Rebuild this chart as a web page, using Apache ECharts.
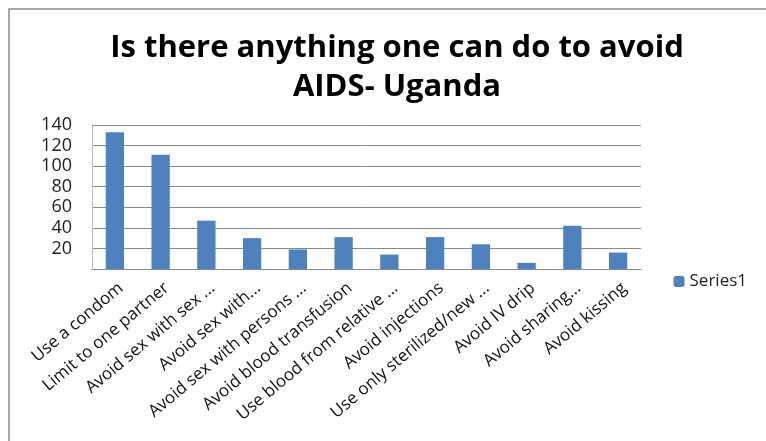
<!DOCTYPE html>
<html><head><meta charset="utf-8">
<script src="https://cdn.jsdelivr.net/npm/echarts@6/dist/echarts.min.js"></script>
<style>html,body{margin:0;padding:0;background:#fff}#c{width:766px;height:441px}</style>
</head><body><div id="c"></div>
<script>
const categories = ["Use a condom","Limit to one partner","Avoid sex with sex ...","Avoid sex with...","Avoid sex with persons ...","Avoid blood transfusion","Use blood from relative ...","Avoid injections","Use only sterilized/new ...","Avoid IV drip","Avoid sharing...","Avoid kissing"];
const series1 = [133,111,47,30,19,31,14,31,24,6,42,16];
const titleLines = ["Is there anything one can do to avoid","AIDS- Uganda"];

const chart = echarts.init(document.getElementById('c'), null, {renderer:'canvas'});
chart.setOption({
  animation:false,
  backgroundColor:'#fff',
  graphic:[{type:'rect',shape:{x:9,y:9,width:800,height:500},style:{fill:'none',stroke:'#8a8a8a',lineWidth:1.5}}],
  title:{text:titleLines.join('\n'),left:392,textAlign:'center',top:24,
    textStyle:{fontFamily:'Open Sans',fontWeight:'bold',fontSize:31,lineHeight:39,color:'#000'}},
  legend:{right:14,top:268,itemWidth:11,itemHeight:11,itemGap:5,
    textStyle:{fontFamily:'Open Sans',fontSize:17,color:'#222'},data:['Series1']},
  grid:{left:92,right:125,top:125,bottom:172,containLabel:false},
  xAxis:{type:'category',data:categories,
    axisLine:{lineStyle:{color:'#888',width:1}},axisTick:{show:false},
    axisLabel:{rotate:40,interval:0,margin:22,padding:[0,-8,0,0],fontFamily:'Open Sans',fontSize:17,color:'#111'}},
  yAxis:{type:'value',min:0,max:140,interval:20,
    axisLine:{show:true,lineStyle:{color:'#bbb'}},axisTick:{show:false},
    splitLine:{lineStyle:{color:'#888',width:1}},
    axisLabel:{margin:20,fontFamily:'Open Sans',fontSize:18,color:'#222',formatter:v=>v===0?'':String(v)}},
  series:[{name:'Series1',type:'bar',data:series1,barWidth:'40%',itemStyle:{color:'#4F81BD'}}]
});
</script></body></html>
